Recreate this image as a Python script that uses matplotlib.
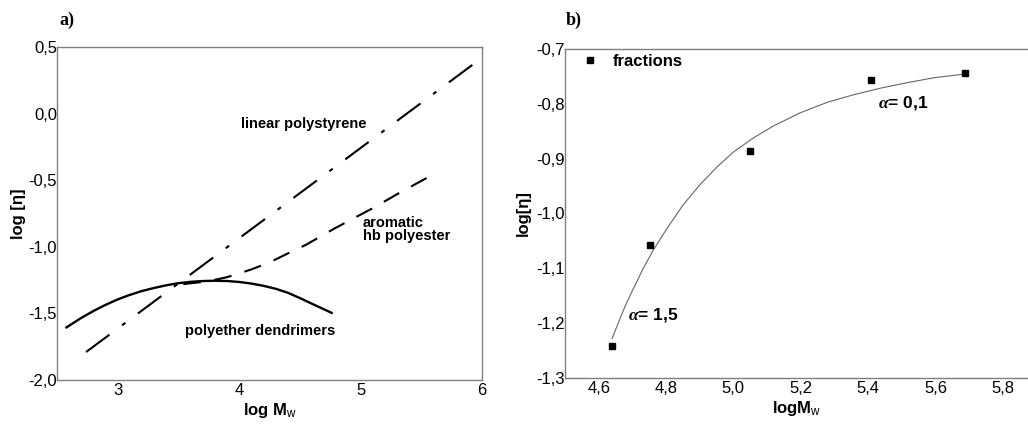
import numpy as np
import matplotlib
matplotlib.use('Agg')
import matplotlib.pyplot as plt
from matplotlib.ticker import FuncFormatter, FixedLocator

# ---- panel a data ----
ps_x = [2.74, 6.0]            # linear polystyrene (straight line)
ps_y = [-1.79, 0.42]
hb_x = [3.54, 3.67, 3.79, 3.9, 4.0, 4.1, 4.2, 4.3, 4.4, 4.55, 4.79, 5.1, 5.31, 5.59]   # aromatic hb polyester
hb_y = [-1.28, -1.267, -1.25, -1.228, -1.20, -1.17, -1.135, -1.095, -1.05, -0.985, -0.86, -0.71, -0.60, -0.46]
den_x = [2.57, 2.7, 2.8, 2.9, 3.0, 3.1, 3.2, 3.3, 3.4, 3.5, 3.6, 3.7, 3.8, 3.9,
         4.0, 4.1, 4.2, 4.3, 4.4, 4.5, 4.6, 4.7, 4.77]      # polyether dendrimers
den_y = [-1.61, -1.534, -1.482, -1.436, -1.395, -1.361, -1.332, -1.309, -1.289, -1.273,
         -1.263, -1.257, -1.255, -1.257, -1.264, -1.276, -1.293, -1.315, -1.345, -1.385,
         -1.428, -1.470, -1.50]

# ---- panel b data ----
frac_x = [4.639, 4.753, 5.050, 5.409, 5.689]
frac_y = [-1.242, -1.058, -0.886, -0.757, -0.744]
fit_x = [4.64, 4.66, 4.68, 4.70, 4.73, 4.76, 4.80, 4.85, 4.90, 4.95, 5.00, 5.06, 5.12,
         5.20, 5.28, 5.36, 5.44, 5.52, 5.60, 5.684]
fit_y = [-1.228, -1.197, -1.167, -1.141, -1.103, -1.069, -1.030, -0.985, -0.948, -0.916,
         -0.888, -0.862, -0.840, -0.816, -0.797, -0.783, -0.771, -0.761, -0.752, -0.746]

plt.rcParams['font.family'] = ['Liberation Sans', 'DejaVu Sans']
plt.rcParams['mathtext.fontset'] = 'custom'
plt.rcParams['mathtext.rm'] = 'Liberation Sans'
plt.rcParams['mathtext.it'] = 'Liberation Serif:italic:bold'
plt.rcParams['mathtext.bf'] = 'Liberation Sans:bold'

comma = FuncFormatter(lambda v, p: f'{v:.1f}'.replace('.', ','))
intfmt = FuncFormatter(lambda v, p: f'{v:.0f}')

fig = plt.figure(figsize=(10.28, 4.26), dpi=100)
ax1 = fig.add_axes([0.0554, 0.108, 0.4136, 0.7817])
ax2 = fig.add_axes([0.5496, 0.1127, 0.4504, 0.7723])

spine_col = '#7f7f7f'

# panel a
ax1.plot(ps_x, ps_y, color='black', lw=1.5, linestyle=(0, (14, 7.5, 2, 7.5)))
ax1.plot(hb_x, hb_y, color='black', lw=1.5, linestyle=(0, (8.5, 6.5)))
ax1.plot(den_x, den_y, color='black', lw=1.7, solid_capstyle='butt')
ax1.set_xlim(2.5, 6.0)
ax1.set_ylim(-2.0, 0.5)
ax1.xaxis.set_major_locator(FixedLocator([3, 4, 5, 6]))
ax1.yaxis.set_major_locator(FixedLocator([0.5, 0.0, -0.5, -1.0, -1.5, -2.0]))
ax1.xaxis.set_major_formatter(intfmt)
ax1.yaxis.set_major_formatter(comma)

ax1.text(4.53, -0.108, 'linear polystyrene', ha='center', va='baseline', fontsize=10.5, fontweight='bold')
ax1.text(5.017, -0.85, 'aromatic', ha='left', va='baseline', fontsize=10.5, fontweight='bold')
ax1.text(5.017, -0.948, 'hb polyester', ha='left', va='baseline', fontsize=10.5, fontweight='bold')
ax1.text(4.17, -1.66, 'polyether dendrimers', ha='center', va='baseline', fontsize=10.5, fontweight='bold')
ax1.set_xlabel(r'log M$_{\mathrm{w}}$', fontsize=12, fontweight='bold', labelpad=2)
ax1.set_ylabel('log [η]', fontsize=12, fontweight='bold', labelpad=2)

# panel b
ax2.plot(fit_x, fit_y, color='#666666', lw=0.8)
ax2.plot(frac_x, frac_y, 's', color='black', markersize=5, linestyle='none', label='fractions')
ax2.set_xlim(4.5, 5.875)
ax2.set_ylim(-1.3, -0.7)
ax2.xaxis.set_major_locator(FixedLocator([4.6, 4.8, 5.0, 5.2, 5.4, 5.6, 5.8]))
ax2.yaxis.set_major_locator(FixedLocator([-0.7, -0.8, -0.9, -1.0, -1.1, -1.2, -1.3]))
ax2.xaxis.set_major_formatter(comma)
ax2.yaxis.set_major_formatter(comma)
ax2.spines['right'].set_visible(False)

ax2.text(4.687, -1.193, r'$\alpha$= 1,5', ha='left', va='baseline', fontsize=12.5, fontweight='bold')
ax2.text(5.430, -0.806, r'$\alpha$= 0,1', ha='left', va='baseline', fontsize=12.5, fontweight='bold')
ax2.legend(loc='upper left', bbox_to_anchor=(0.035, 0.985), frameon=False,
           handlelength=1.0, handletextpad=0.9, borderaxespad=0, borderpad=0,
           prop={'weight': 'bold', 'size': 12})
ax2.set_xlabel(r'logM$_{\mathrm{w}}$', fontsize=12, fontweight='bold', labelpad=2)
ax2.set_ylabel('log[η]', fontsize=12, fontweight='bold', labelpad=4)

for ax in (ax1, ax2):
    for s in ax.spines.values():
        s.set_color(spine_col)
        s.set_linewidth(1.0)
    ax.tick_params(length=0, labelsize=12, pad=2)
    ax.tick_params(axis='y', pad=0)

fig.text(67 / 1028, 1 - 20 / 426, 'a)', family='Liberation Serif', fontweight='bold', fontsize=13, ha='center', va='center')
fig.text(574 / 1028, 1 - 20 / 426, 'b)', family='Liberation Serif', fontweight='bold', fontsize=13, ha='center', va='center')

fig.savefig('out.png', dpi=100)
